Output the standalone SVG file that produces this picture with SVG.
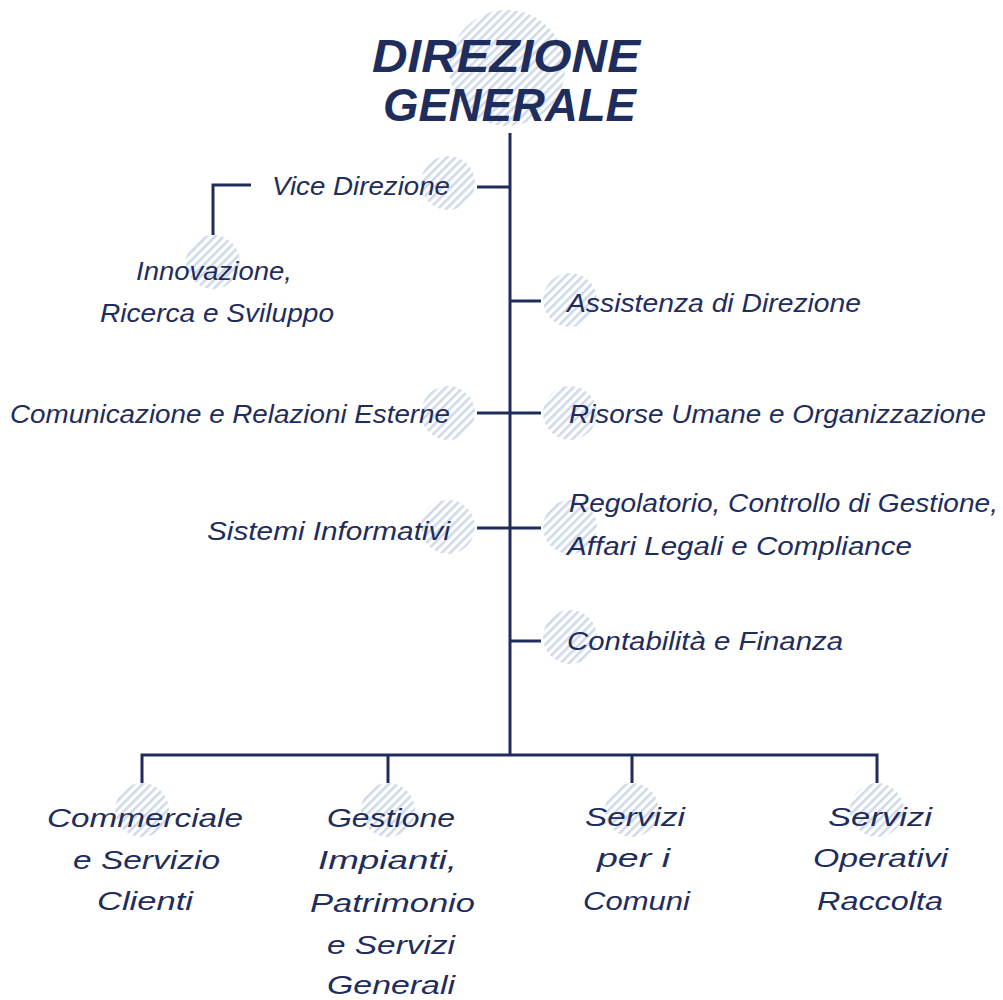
<svg xmlns="http://www.w3.org/2000/svg" width="1003" height="1000" viewBox="0 0 1003 1000">
<defs>
<pattern id="hatch" patternUnits="userSpaceOnUse" width="6" height="6" patternTransform="rotate(45)">
<rect x="0" y="0" width="2.6" height="6" fill="#cfd9ea"/>
</pattern>
<style>
.dot{fill:url(#hatch)}
.ln{stroke:#1f2d5c;stroke-width:3;fill:none}
.lb{font-family:"Liberation Sans",Arial,sans-serif;font-style:italic;font-size:26px;fill:#1f2d5c}
.ttl{font-family:"Liberation Sans",Arial,sans-serif;font-style:italic;font-weight:bold;font-size:46px;fill:#1f2d5c}
</style>
</defs>
<rect width="1003" height="1000" fill="#ffffff"/>
<g id="connectors">
<path class="ln" d="M510 133V755"/>
<path class="ln" d="M477 187H510"/>
<path class="ln" d="M251 185H213V235"/>
<path class="ln" d="M510 301H541"/>
<path class="ln" d="M477 413H541"/>
<path class="ln" d="M477 528H541"/>
<path class="ln" d="M510 641H541"/>
<path class="ln" d="M142 783V755H877V783M388 755V783M632 755V783"/>
</g>
<g id="n-direzione-generale">
<circle class="dot" cx="507" cy="68" r="58"/>
<text class="ttl" x="372" y="72" textLength="268" lengthAdjust="spacingAndGlyphs">DIREZIONE</text>
<text class="ttl" x="383" y="121" textLength="253" lengthAdjust="spacingAndGlyphs">GENERALE</text>
</g>
<g id="n-vice-direzione">
<circle class="dot" cx="448" cy="183" r="27"/>
<text class="lb" x="272" y="195" textLength="178" lengthAdjust="spacingAndGlyphs">Vice Direzione</text>
</g>
<g id="n-innovazione">
<circle class="dot" cx="213" cy="262" r="27"/>
<text class="lb" x="136" y="280" textLength="156" lengthAdjust="spacingAndGlyphs">Innovazione,</text>
<text class="lb" x="100" y="322" textLength="234" lengthAdjust="spacingAndGlyphs">Ricerca e Sviluppo</text>
</g>
<g id="n-assistenza">
<circle class="dot" cx="570" cy="300" r="27"/>
<text class="lb" x="567" y="312" textLength="294" lengthAdjust="spacingAndGlyphs">Assistenza di Direzione</text>
</g>
<g id="n-comunicazione">
<circle class="dot" cx="448" cy="413" r="27"/>
<text class="lb" x="10" y="423" textLength="440" lengthAdjust="spacingAndGlyphs">Comunicazione e Relazioni Esterne</text>
</g>
<g id="n-risorse-umane">
<circle class="dot" cx="570" cy="413" r="27"/>
<text class="lb" x="569" y="423" textLength="417" lengthAdjust="spacingAndGlyphs">Risorse Umane e Organizzazione</text>
</g>
<g id="n-sistemi-informativi">
<circle class="dot" cx="448" cy="527" r="27"/>
<text class="lb" x="207" y="540" textLength="243" lengthAdjust="spacingAndGlyphs">Sistemi Informativi</text>
</g>
<g id="n-regolatorio">
<circle class="dot" cx="570" cy="527" r="27"/>
<text class="lb" x="569" y="512" textLength="429" lengthAdjust="spacingAndGlyphs">Regolatorio, Controllo di Gestione,</text>
<text class="lb" x="567" y="555" textLength="345" lengthAdjust="spacingAndGlyphs">Affari Legali e Compliance</text>
</g>
<g id="n-contabilita">
<circle class="dot" cx="570" cy="637" r="27"/>
<text class="lb" x="567" y="650" textLength="276" lengthAdjust="spacingAndGlyphs">Contabilità e Finanza</text>
</g>
<g id="n-commerciale">
<circle class="dot" cx="142" cy="810" r="27"/>
<text class="lb" x="47" y="827" textLength="196" lengthAdjust="spacingAndGlyphs">Commerciale</text>
<text class="lb" x="73" y="869" textLength="147" lengthAdjust="spacingAndGlyphs">e Servizio</text>
<text class="lb" x="97" y="910" textLength="96" lengthAdjust="spacingAndGlyphs">Clienti</text>
</g>
<g id="n-gestione-impianti">
<circle class="dot" cx="388" cy="810" r="27"/>
<text class="lb" x="327" y="827" textLength="128" lengthAdjust="spacingAndGlyphs">Gestione</text>
<text class="lb" x="318" y="869" textLength="139" lengthAdjust="spacingAndGlyphs">Impianti,</text>
<text class="lb" x="310" y="912" textLength="165" lengthAdjust="spacingAndGlyphs">Patrimonio</text>
<text class="lb" x="327" y="954" textLength="128" lengthAdjust="spacingAndGlyphs">e Servizi</text>
<text class="lb" x="327" y="994" textLength="128" lengthAdjust="spacingAndGlyphs">Generali</text>
</g>
<g id="n-servizi-comuni">
<circle class="dot" cx="632" cy="810" r="27"/>
<text class="lb" x="585" y="826" textLength="100" lengthAdjust="spacingAndGlyphs">Servizi</text>
<text class="lb" x="597" y="867" textLength="73" lengthAdjust="spacingAndGlyphs">per i</text>
<text class="lb" x="583" y="910" textLength="107" lengthAdjust="spacingAndGlyphs">Comuni</text>
</g>
<g id="n-servizi-operativi">
<circle class="dot" cx="877" cy="810" r="27"/>
<text class="lb" x="828" y="826" textLength="104" lengthAdjust="spacingAndGlyphs">Servizi</text>
<text class="lb" x="813" y="867" textLength="135" lengthAdjust="spacingAndGlyphs">Operativi</text>
<text class="lb" x="817" y="910" textLength="126" lengthAdjust="spacingAndGlyphs">Raccolta</text>
</g>
</svg>
